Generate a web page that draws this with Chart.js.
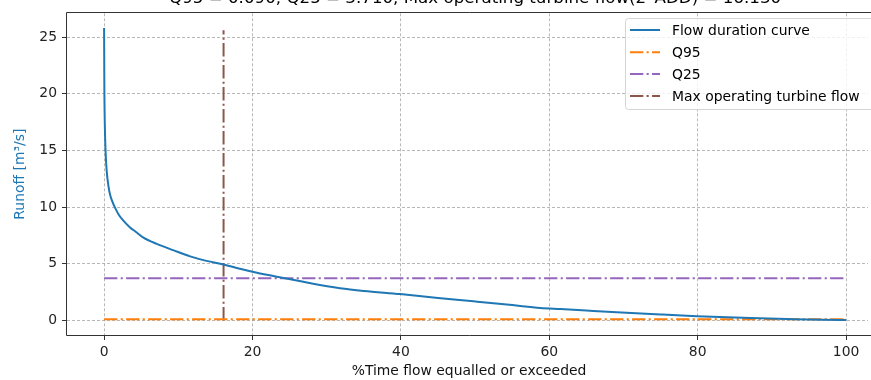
<!DOCTYPE html>
<html>
<head>
<meta charset="utf-8">
<script src="https://cdn.jsdelivr.net/npm/chart.js@4.4.0/dist/chart.umd.min.js"></script>
<style>
  html, body { margin: 0; padding: 0; background: #fff; overflow: hidden; }
</style>
</head>
<body>
<canvas id="fdc" width="871" height="380"></canvas>
<script>
// flow duration curve
const timePct = [0, 0.03, 0.1, 0.2, 0.36, 0.6, 0.8, 1.1, 1.5, 2.0, 2.6, 3.5, 4.3, 5.3, 7.1, 9.3, 11.6, 13.8, 16.1, 18.3, 20.6, 23.3, 25.1, 28, 31.8, 35, 39.9, 45, 49.8, 55, 58.8, 61.5, 65, 69.1, 75, 79.9, 87.1, 93, 97, 100];
const runoff = [25.8, 21, 17.2, 14.9, 13.1, 11.8, 11.1, 10.5, 9.9, 9.3, 8.8, 8.2, 7.8, 7.3, 6.75, 6.2, 5.65, 5.25, 4.93, 4.55, 4.2, 3.85, 3.63, 3.25, 2.84, 2.6, 2.32, 1.98, 1.68, 1.35, 1.1, 1.0, 0.87, 0.72, 0.52, 0.37, 0.2, 0.11, 0.06, 0.03];

const q95 = 0.09;
const q25 = 3.71;
const maxTurbineFlow = 16.1;
const vlineTop = 25.6;
const hlineSpan = [0, 100];

const xTicks = [0, 20, 40, 60, 80, 100];
const yTicks = [0, 5, 10, 15, 20, 25];

const seriesLabels = ["Flow duration curve", "Q95", "Q25", "Max operating turbine flow"];
const seriesColors = ["#1f77b4", "#ff7f0e", "#9467bd", "#8c564b"];

const titleText = "Q95 = 0.090, Q25 = 3.710, Max operating turbine flow(2*ADD) = 16.130";

const dashDot = [13.3, 3.3, 2.1, 3.3];
const fontFamily = "'DejaVu Sans', sans-serif";

const curvePoints = timePct.map((t, i) => ({ x: t, y: runoff[i] }));

// frame (right spine falls outside the picture), clipped title and legend
const decorations = {
  id: "decorations",
  afterDraw(chart) {
    const ctx = chart.ctx;
    const a = chart.chartArea;
    const l = Math.round(a.left) - 0.5, t = Math.round(a.top) - 0.5, b = Math.round(a.bottom) + 0.5;
    ctx.save();

    // nothing should show at the very right edge: the axes continue past it
    ctx.fillStyle = "#fff";
    ctx.fillRect(chart.width - 3, a.top + 1, 3, a.bottom - a.top - 1);

    ctx.strokeStyle = "#333";
    ctx.lineWidth = 1;
    ctx.beginPath();
    ctx.moveTo(chart.width + 2, t);
    ctx.lineTo(l, t);
    ctx.lineTo(l, b);
    ctx.lineTo(chart.width + 2, b);
    ctx.stroke();

    ctx.fillStyle = "#000";
    ctx.font = "16.7px " + fontFamily;
    ctx.textAlign = "center";
    ctx.textBaseline = "alphabetic";
    ctx.fillText(titleText, chart.scales.x.getPixelForValue(50), 3);

    // legend
    const bx = 625, by = 18, bw = 260, bh = 91;
    ctx.beginPath();
    ctx.roundRect(bx + 0.5, by + 0.5, bw, bh, 3);
    ctx.fillStyle = "rgba(255,255,255,0.8)";
    ctx.fill();
    ctx.strokeStyle = "#d5d5d5";
    ctx.stroke();

    ctx.font = "13.9px " + fontFamily;
    ctx.textAlign = "left";
    ctx.textBaseline = "middle";
    const rows = [30, 52.3, 74, 96];
    chart.data.datasets.forEach((ds, i) => {
      const y = rows[i];
      ctx.beginPath();
      ctx.setLineDash(ds.borderDash || []);
      ctx.strokeStyle = ds.borderColor;
      ctx.lineWidth = ds.borderWidth;
      ctx.moveTo(630, y);
      ctx.lineTo(660, y);
      ctx.stroke();
      ctx.setLineDash([]);
      ctx.fillStyle = "#000";
      ctx.fillText(ds.label, 672, y + 1);
    });
    ctx.restore();
  }
};

const gridOpts = {
  color: "#9a9a9a",
  lineWidth: 0.7,
  tickLength: 5,
  tickColor: "#333",
  tickBorderDash: [],
  tickWidth: 1
};

new Chart(document.getElementById("fdc"), {
  type: "line",
  data: {
    datasets: [
      {
        label: seriesLabels[0],
        data: curvePoints,
        borderColor: seriesColors[0],
        borderWidth: 2,
        pointRadius: 0,
        cubicInterpolationMode: "monotone",
        fill: false
      },
      {
        label: seriesLabels[1],
        data: hlineSpan.map(x => ({ x: x, y: q95 })),
        borderColor: seriesColors[1],
        borderWidth: 2,
        borderDash: dashDot,
        pointRadius: 0
      },
      {
        label: seriesLabels[2],
        data: hlineSpan.map(x => ({ x: x, y: q25 })),
        borderColor: seriesColors[2],
        borderWidth: 2,
        borderDash: dashDot,
        pointRadius: 0
      },
      {
        label: seriesLabels[3],
        data: [{ x: maxTurbineFlow, y: 0 }, { x: maxTurbineFlow, y: vlineTop }],
        borderColor: seriesColors[3],
        borderWidth: 2,
        borderDash: dashDot,
        pointRadius: 0
      }
    ]
  },
  options: {
    responsive: false,
    animation: false,
    layout: { padding: { top: 10, left: 0, right: 0, bottom: 0 } },
    plugins: {
      legend: { display: false },
      tooltip: { enabled: false }
    },
    scales: {
      x: {
        type: "linear",
        min: -5,
        max: 103.36,
        afterBuildTicks: s => { s.ticks = xTicks.map(v => ({ value: v })); },
        afterFit: s => { s.height = 45; },
        grid: gridOpts,
        border: { display: false, dash: [3, 2] },
        ticks: { color: "#222", padding: 4, font: { family: fontFamily, size: 13.9 } },
        title: {
          display: true,
          text: "%Time flow equalled or exceeded",
          color: "#111",
          padding: { top: 4, bottom: 0 },
          font: { family: fontFamily, size: 13.9 }
        }
      },
      y: {
        type: "linear",
        min: -1.29,
        max: 27.09,
        afterBuildTicks: s => { s.ticks = yTicks.map(v => ({ value: v })); },
        afterFit: s => { s.width = 67; },
        grid: gridOpts,
        border: { display: false, dash: [3, 2] },
        ticks: { color: "#222", padding: 5, font: { family: fontFamily, size: 13.9 } },
        title: {
          display: true,
          text: "Runoff [m³/s]",
          color: "#1f77b4",
          padding: { top: 12, bottom: 0 },
          font: { family: fontFamily, size: 13.9 }
        }
      }
    }
  },
  plugins: [decorations]
});
</script>
</body>
</html>
